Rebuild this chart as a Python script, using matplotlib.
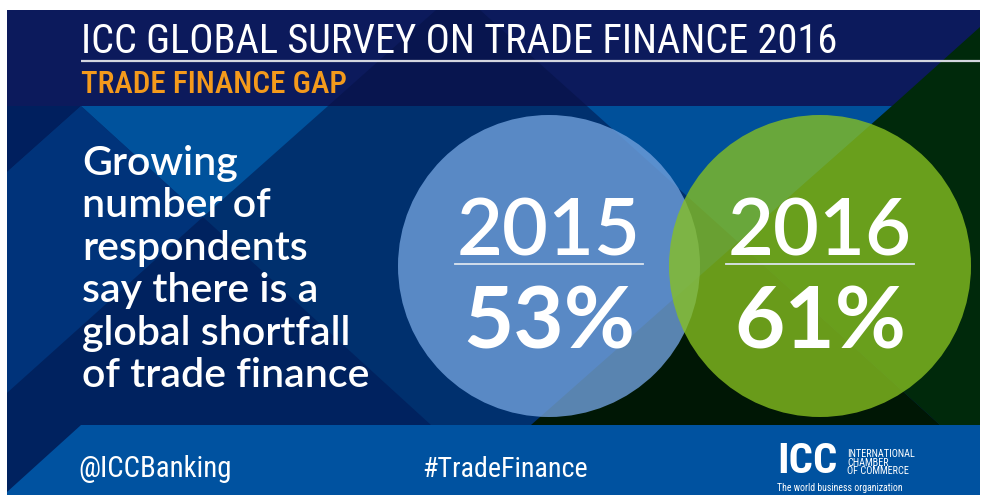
import matplotlib
matplotlib.use("Agg")
import matplotlib.pyplot as plt
from matplotlib.patches import Polygon, Circle
from matplotlib import font_manager

# survey results
years = ["2015", "2016"]
shares = [53, 61]
circle_colors = ["#70a0dc", "#88c121"]
circle_alpha = [0.8, 0.78]

title = "ICC GLOBAL SURVEY ON TRADE FINANCE 2016"
subtitle = "TRADE FINANCE GAP"
message = ["Growing", "number of", "respondents", "say there is a",
           "global shortfall", "of trade finance"]
footer = ["@ICCBanking", "#TradeFinance"]
logo_lines = ["INTERNATIONAL", "CHAMBER", "OF COMMERCE"]
tagline = "The world business organization"


def pick_font(candidates):
    names = {f.name for f in font_manager.fontManager.ttflist}
    for c in candidates:
        if c in names:
            return c
    return "DejaVu Sans"


narrow = pick_font(["Roboto Condensed", "Liberation Sans Narrow", "Roboto", "Liberation Sans"])
round_font = pick_font(["Lato", "Inter", "Roboto"])

W, H = 981, 498
fig = plt.figure(figsize=(W / 100, H / 100), dpi=100)
ax = fig.add_axes([0, 0, 1, 1])
ax.set_xlim(0, W)
ax.set_ylim(H, 0)
ax.axis("off")
renderer = fig.canvas.get_renderer()


def fit_text(x, y, s, width, **kw):
    t = ax.text(x, y, s, fontsize=20, va="baseline", **kw)
    w = t.get_window_extent(renderer).width
    t.set_fontsize(20 * width / w)
    return t


def poly(pts, color, z=0):
    ax.add_patch(Polygon(pts, closed=True, facecolor=color, edgecolor="none", zorder=z))


x0, x1, y0, y1 = 7, 980, 10, 495
hy, by = 106, 425

# header
poly([(x0, y0), (x1, y0), (x1, hy), (x0, hy)], "#0c1a5c")
poly([(436, y0), (480, y0), (587, hy), (328, hy)], "#08154f")
poly([(x1, 27), (x1, hy), (892, hy)], "#00290b")

# middle area
poly([(x0, hy), (x1, hy), (x1, by), (x0, by)], "#00306e")
poly([(x0, hy), (81, hy), (x0, 172)], "#001f5e")
poly([(81, hy), (328, hy), (203, 217)], "#00529c")
poly([(x0, 172), (81, hy), (203, 217), (x0, 393)], "#00337a")
poly([(x0, 393), (203, 217), (431, by), (x0, by)], "#00225f")
poly([(587, hy), (892, hy), (738, 242)], "#00509a")
poly([(892, hy), (x1, hy), (x1, by), (940, by), (738, 242)], "#00290b")
poly([(738, 242), (940, by), (531, by)], "#001705")

# footer band
poly([(x0, by), (x1, by), (x1, y1), (x0, y1)], "#00225f")
poly([(81, by), (x1, by), (x1, y1), (x0, y1), (x0, 492)], "#0052a0")

# title block
fit_text(81, 53, title, 756, color="white", family=narrow)
ax.plot([81, x1], [61, 61], color="#d4d6e0", lw=1.6, solid_capstyle="butt", zorder=3)
fit_text(81, 93, subtitle, 266, color="#f49a1c", family=narrow, fontweight="medium")

# left message
t = fit_text(82, 387, message[-1], 288, color="white", family=round_font, fontweight="semibold")
fs = t.get_fontsize()
for i, line in enumerate(message[:-1]):
    ax.text(82, 175 + i * 42.4, line, fontsize=fs, color="white", va="baseline",
            family=round_font, fontweight="semibold")

# circles with the two survey results
centers = [549, 820]
for cx, col, a in zip(centers, circle_colors, circle_alpha):
    ax.add_patch(Circle((cx, 266), 151, facecolor=col, edgecolor="none", alpha=a, zorder=1))
for cx, yr, sh in zip(centers, years, shares):
    fit_text(cx, 255, yr, 184, color="white", ha="center", family=round_font,
             fontweight="semibold", zorder=4)
    ax.plot([cx - 94, cx + 94], [264, 264], color="#dbe4ee", lw=1.3, zorder=4)
    fit_text(cx, 348, f"{sh}%", 172, color="white", ha="center", family=round_font,
             fontweight="bold", zorder=4)

# footer
fit_text(78, 477, footer[0], 153, color="white", family=narrow)
fit_text(422, 477, footer[1], 165, color="white", family=narrow)

fit_text(777, 473, "ICC", 60, color="white", family=narrow, fontweight="heavy")
t = fit_text(847, 457, logo_lines[0], 68, color="white", family=narrow)
for i, line in enumerate(logo_lines[1:]):
    ax.text(847, 465.5 + i * 8.5, line, fontsize=t.get_fontsize(), color="white",
            va="baseline", family=narrow)
fit_text(777, 491, tagline, 125, color="white", family=narrow)

fig.savefig("out.png", dpi=100, facecolor="white")
